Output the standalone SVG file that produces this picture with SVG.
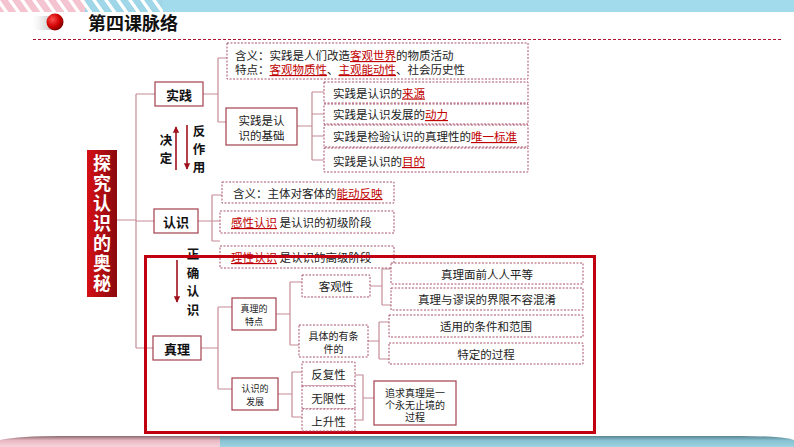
<svg xmlns="http://www.w3.org/2000/svg" width="794" height="447" viewBox="0 0 794 447">
<defs>
<style>
.ln{stroke:#c48c96;stroke-width:1.2;fill:none}
.sb{fill:#fff;stroke:#a3404d;stroke-width:1.2}
.db{fill:#fff;stroke:#a85068;stroke-width:1;stroke-dasharray:2 1.5}
.t{font-family:"Noto Sans CJK SC","Noto Sans",sans-serif;fill:#222;dominant-baseline:central}
.v{font-family:"Noto Sans CJK SC","Noto Sans",sans-serif;writing-mode:tb;font-weight:bold;fill:#111}
.m{font-size:11.5px}
.s{font-size:10px}
.xs{font-size:9px}
.b{font-weight:bold;font-size:13px;fill:#111}
.r{fill:#c00000;text-decoration:underline}
.c{text-anchor:middle}
.aw{stroke:#a0101c;stroke-width:1.6;fill:none}
</style>
<marker id="ah" viewBox="0 0 10 10" refX="9" refY="5" markerWidth="4" markerHeight="5" orient="auto">
<path d="M0,0 L10,5 L0,10 z" fill="#a0101c"/>
</marker>
<linearGradient id="mg" x1="0" y1="0" x2="1" y2="0">
<stop offset="0" stop-color="#d40f14"/><stop offset="1" stop-color="#8a0a0e"/>
</linearGradient>
<radialGradient id="ball" cx="0.35" cy="0.35" r="0.7">
<stop offset="0" stop-color="#ff5050"/><stop offset="0.6" stop-color="#d00000"/><stop offset="1" stop-color="#7a0000"/>
</radialGradient>
<pattern id="pstripe" width="12" height="13" patternUnits="userSpaceOnUse" patternTransform="skewX(35)">
<rect width="12" height="13" fill="#fff"/><rect width="8" height="13" fill="#f4c4d0"/>
</pattern>
<pattern id="bstripe" width="12" height="13" patternUnits="userSpaceOnUse" patternTransform="skewX(35)">
<rect width="12" height="13" fill="#fff"/><rect width="8" height="13" fill="#9fd6e8"/>
</pattern>
<linearGradient id="shd" x1="0" y1="0" x2="1" y2="0">
<stop offset="0" stop-color="#ddd" stop-opacity="0"/><stop offset="1" stop-color="#999" stop-opacity="0.7"/>
</linearGradient>
<linearGradient id="botL" x1="0" y1="0" x2="0" y2="1">
<stop offset="0" stop-color="#8a6a70"/><stop offset="0.4" stop-color="#e8b8c2"/><stop offset="1" stop-color="#f6d4dc"/>
</linearGradient>
<linearGradient id="botR" x1="0" y1="0" x2="0" y2="1">
<stop offset="0" stop-color="#5a8490"/><stop offset="0.4" stop-color="#86c0d0"/><stop offset="1" stop-color="#9dd3e2"/>
</linearGradient>
</defs>
<rect width="794" height="447" fill="#fff"/>
<!-- top band -->
<rect x="0" y="0" width="85" height="12" fill="url(#pstripe)"/>
<rect x="85" y="0" width="78" height="12" fill="url(#bstripe)"/>
<rect x="163" y="0" width="631" height="12" fill="#a2dbec"/>
<!-- title -->
<rect x="32" y="16" width="22" height="14" fill="url(#shd)"/>
<circle cx="55" cy="22" r="8.5" fill="url(#ball)"/>
<text x="88" y="22" class="t" style="font-size:18px;font-weight:bold;fill:#111">第四课脉络</text>
<line x1="33" y1="39.5" x2="783" y2="39.5" stroke="#b01030" stroke-width="1" stroke-dasharray="3 2"/>
<!-- bottom band -->
<path d="M0,447 L0,440 Q20,436 60,436 L220,436 L220,447 Z" fill="url(#botL)"/>
<path d="M220,436 L740,436 Q780,436 794,440 L794,447 L220,447 Z" fill="url(#botR)"/>

<g id="connectors">
<path class="ln" d="M117,220 H136 M136,94 V348 M136,94 H155 M136,221 H154 M136,348 H153"/>
<path class="ln" d="M203,94 H218 M218,58 V122 M218,58 H227 M218,122 H226"/>
<path class="ln" d="M297,126 H312 M312,92 V160 M312,92 H324 M312,114 H324 M312,136 H324 M312,160 H324"/>
<path class="ln" d="M198,221 H212 M212,195 V241 M212,195 H222 M212,221 H220 M212,241 H220"/>
<path class="ln" d="M201,348 H218 M218,307 V389 M218,307 H232 M218,389 H232"/>
<path class="ln" d="M276,314 H290 M290,282 V345 M290,282 H302 M290,345 H299"/>
<path class="ln" d="M370,286 H382 M382,269 V305 M382,269 H391 M382,305 H391"/>
<path class="ln" d="M368,341 H379 M379,322 V359 M379,322 H389 M379,359 H389"/>
<path class="ln" d="M278,394 H292 M292,372 V417 M292,372 H302 M292,417 H302"/>
<path class="ln" d="M355,375 H363 V420 H355 M363,398 H374"/>
<line class="aw" x1="176" y1="170" x2="176" y2="127" marker-end="url(#ah)"/>
<line class="aw" x1="187" y1="125" x2="187" y2="169" marker-end="url(#ah)"/>
<line class="aw" x1="177" y1="260" x2="177" y2="302" marker-end="url(#ah)"/>
</g>

<g id="labels">
<text class="v" x="166" y="134" style="font-size:12.5px;letter-spacing:5.5px">决定</text>
<text class="v" x="199" y="125" style="font-size:12.5px;letter-spacing:5.5px">反作用</text>
<text class="v" x="193" y="248" style="font-size:12.5px;letter-spacing:6px">正确认识</text>
</g>

<g id="main">
<rect x="87" y="150" width="30" height="147" fill="url(#mg)"/>
<text class="v" x="102" y="154" style="font-size:18px;letter-spacing:2px;fill:#fff">探究认识的奥秘</text>
</g>

<g id="shijian">
<rect class="sb" x="155" y="82" width="48" height="24"/>
<text class="t b c" x="179" y="94">实践</text>
</g>
<g id="shijian-def">
<rect class="db" x="227" y="43" width="301" height="36"/>
<text class="t m" x="235" y="55">含义：实践是人们改造<tspan class="r">客观世界</tspan>的物质活动<tspan x="235" dy="14">特点：</tspan><tspan class="r">客观物质性</tspan>、<tspan class="r">主观能动性</tspan>、社会历史性</text>
</g>
<g id="shijian-basis">
<rect class="sb" x="226" y="108" width="71" height="37"/>
<text class="t m c" x="261.5" y="120">实践是认<tspan x="261.5" dy="15">识的基础</tspan></text>
</g>
<g id="source">
<rect class="db" x="324" y="82" width="204" height="21"/>
<text class="t m" x="333" y="92.5">实践是认识的<tspan class="r">来源</tspan></text>
</g>
<g id="power">
<rect class="db" x="324" y="104" width="204" height="20"/>
<text class="t m" x="333" y="114">实践是认识发展的<tspan class="r">动力</tspan></text>
</g>
<g id="standard">
<rect class="db" x="324" y="125" width="204" height="22"/>
<text class="t m" x="333" y="136">实践是检验认识的真理性的<tspan class="r">唯一标准</tspan></text>
</g>
<g id="goal">
<rect class="db" x="324" y="148" width="204" height="24"/>
<text class="t m" x="333" y="161">实践是认识的<tspan class="r">目的</tspan></text>
</g>

<g id="renshi">
<rect class="sb" x="154" y="209" width="44" height="24"/>
<text class="t b c" x="176" y="221">认识</text>
</g>
<g id="renshi-def">
<rect class="db" x="222" y="182" width="172" height="21"/>
<text class="t m" x="233" y="193">含义：主体对客体的<tspan class="r">能动反映</tspan></text>
</g>
<g id="ganxing">
<rect class="db" x="220" y="211" width="174" height="22"/>
<text class="t m" x="231" y="222"><tspan class="r"> 感性认识</tspan> 是认识的初级阶段</text>
</g>
<g id="lixing">
<rect class="db" x="220" y="246" width="174" height="22"/>
<text class="t m" x="231" y="257"><tspan class="r"> 理性认识</tspan> 是认识的高级阶段</text>
</g>

<rect id="frame" x="145.5" y="256.5" width="449" height="176" fill="none" stroke="#c00010" stroke-width="3"/>

<g id="zhenli">
<rect class="sb" x="153" y="336" width="48" height="24"/>
<text class="t b c" x="177" y="348">真理</text>
</g>
<g id="tedian">
<rect class="sb" x="232" y="298" width="44" height="32"/>
<text class="t xs c" x="254" y="308">真理的<tspan x="254" dy="13">特点</tspan></text>
</g>
<g id="fazhan">
<rect class="sb" x="232" y="378" width="46" height="32"/>
<text class="t xs c" x="255" y="388">认识的<tspan x="255" dy="13">发展</tspan></text>
</g>
<g id="keguan">
<rect class="db" x="302" y="275" width="68" height="22"/>
<text class="t m c" x="336" y="286">客观性</text>
</g>
<g id="juti">
<rect class="db" x="299" y="325" width="69" height="32"/>
<text class="t s c" x="333.5" y="335">具体的有条<tspan x="333.5" dy="13">件的</tspan></text>
</g>
<g id="pingdeng">
<rect class="db" x="391" y="263" width="192" height="21"/>
<text class="t m c" x="487" y="273.5">真理面前人人平等</text>
</g>
<g id="jiexian">
<rect class="db" x="391" y="288" width="192" height="22"/>
<text class="t m c" x="487" y="299">真理与谬误的界限不容混淆</text>
</g>
<g id="tiaojian">
<rect class="db" x="389" y="315" width="194" height="22"/>
<text class="t m c" x="486" y="326">适用的条件和范围</text>
</g>
<g id="guocheng">
<rect class="db" x="389" y="343" width="194" height="21"/>
<text class="t m c" x="486" y="353.5">特定的过程</text>
</g>
<g id="fanfu">
<rect class="db" x="302" y="362" width="53" height="24"/>
<text class="t m c" x="328.5" y="374">反复性</text>
</g>
<g id="wuxian">
<rect class="db" x="302" y="386" width="53" height="23"/>
<text class="t m c" x="328.5" y="397.5">无限性</text>
</g>
<g id="shangsheng">
<rect class="db" x="302" y="409" width="53" height="22"/>
<text class="t m c" x="328.5" y="421">上升性</text>
</g>
<g id="zhuiqiu">
<rect class="sb" x="374" y="381" width="82" height="44"/>
<text class="t s c" x="415" y="392">追求真理是一<tspan x="415" dy="12">个永无止境的</tspan><tspan x="415" dy="12">过程</tspan></text>
</g>
</svg>
